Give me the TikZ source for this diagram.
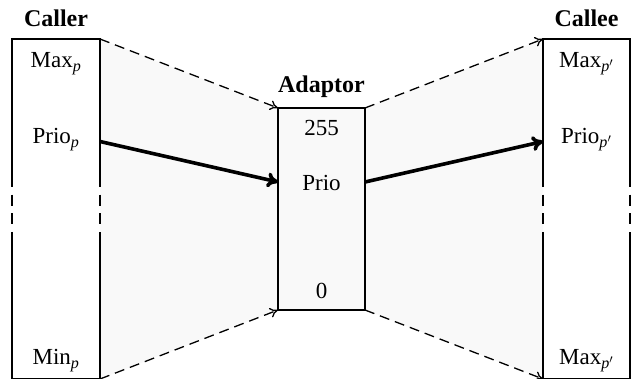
\documentclass[tikz,border=0pt]{standalone}
\usepackage{amsmath}
\usepackage{fontspec}
\setmainfont{Liberation Serif}
\usetikzlibrary{arrows.meta}
\begin{document}
\begin{tikzpicture}[x=1pt,y=-1pt,
  font=\fontsize{23}{27}\selectfont,
  boxline/.style={line width=1.6pt},
  sidedash/.style={line width=1.6pt,dash pattern=on 11pt off 7.67pt},
  thinarrow/.style={line width=1.3pt,dash pattern=on 10pt off 6pt,-{To[length=8pt,width=10pt]}},
  thickarrow/.style={line width=3.6pt,-{To[length=11pt,width=15pt]}},
  lbl/.style={anchor=base,inner sep=0pt},
  title/.style={anchor=base,inner sep=0pt,font=\fontsize{24}{28}\selectfont\bfseries},
  fillgray/.style={fill=black!2.5}]
\useasboundingbox (0,0) rectangle (633,379);
% corners
\coordinate (Ltl) at (12,39);  \coordinate (Ltr) at (100,39);
\coordinate (Lbl) at (12,379); \coordinate (Lbr) at (100,379);
\coordinate (Atl) at (278,108); \coordinate (Atr) at (365,108);
\coordinate (Abl) at (278,310); \coordinate (Abr) at (365,310);
\coordinate (Rtl) at (543,39);  \coordinate (Rtr) at (630,39);
\coordinate (Rbl) at (543,379); \coordinate (Rbr) at (630,379);
% dashed side breaks
\coordinate (L1a) at (12,176);  \coordinate (L1b) at (12,232);
\coordinate (L2a) at (100,176); \coordinate (L2b) at (100,232);
\coordinate (R1a) at (543,176); \coordinate (R1b) at (543,232);
\coordinate (R2a) at (630,176); \coordinate (R2b) at (630,232);
\coordinate (Lpo) at (100,141.5); \coordinate (Api) at (278,182);
\coordinate (Apo) at (365,182);   \coordinate (Rpi) at (543,141.5);
% fill
\fill[fillgray] (Ltr) -- (Atl) -- (Atr) -- (Rtl) -- (Rbl) -- (Abr) -- (Abl) -- (Lbr) -- cycle;
% caller box
\draw[boxline] (L1a) -- (Ltl) -- (Ltr) -- (L2a);
\draw[boxline] (L1b) -- (Lbl) -- (Lbr) -- (L2b);
\draw[sidedash] (L1a) -- (L1b);
\draw[sidedash] (L2a) -- (L2b);
% callee box
\draw[boxline] (R1a) -- (Rtl) -- (Rtr) -- (R2a);
\draw[boxline] (R1b) -- (Rbl) -- (Rbr) -- (R2b);
\draw[sidedash] (R1a) -- (R1b);
\draw[sidedash] (R2a) -- (R2b);
% adaptor box
\draw[boxline] (Atl) rectangle (Abr);
% connectors
\draw[thinarrow] (Ltr) -- (Atl);
\draw[thinarrow] (Lbr) -- (Abl);
\draw[thinarrow] (Atr) -- (Rtl);
\draw[thinarrow] (Abr) -- (Rbl);
\draw[thickarrow] (Lpo) -- (Api);
\draw[thickarrow] (Apo) -- (Rpi);
% labels
\node[title] (caller) at (56,27) {Caller};
\node[title] (adaptor) at (321.5,93) {Adaptor};
\node[title] (callee) at (586.5,27) {Callee};
\node[lbl] (maxp) at (56,68) {Max$_{\textit{p}}$};
\node[lbl] (priop) at (56,144) {Prio$_{\textit{p}}$};
\node[lbl] (minp) at (56,365) {Min$_{\textit{p}}$};
\node[lbl] (a255) at (321.5,136) {255};
\node[lbl] (aprio) at (321.5,191) {Prio};
\node[lbl] (a0) at (321.5,299) {0};
\node[lbl] (maxq) at (586.5,68) {Max$_{\textit{p}'}$};
\node[lbl] (prioq) at (586.5,144) {Prio$_{\textit{p}'}$};
\node[lbl] (maxq2) at (586.5,365) {Max$_{\textit{p}'}$};
\end{tikzpicture}
\end{document}
